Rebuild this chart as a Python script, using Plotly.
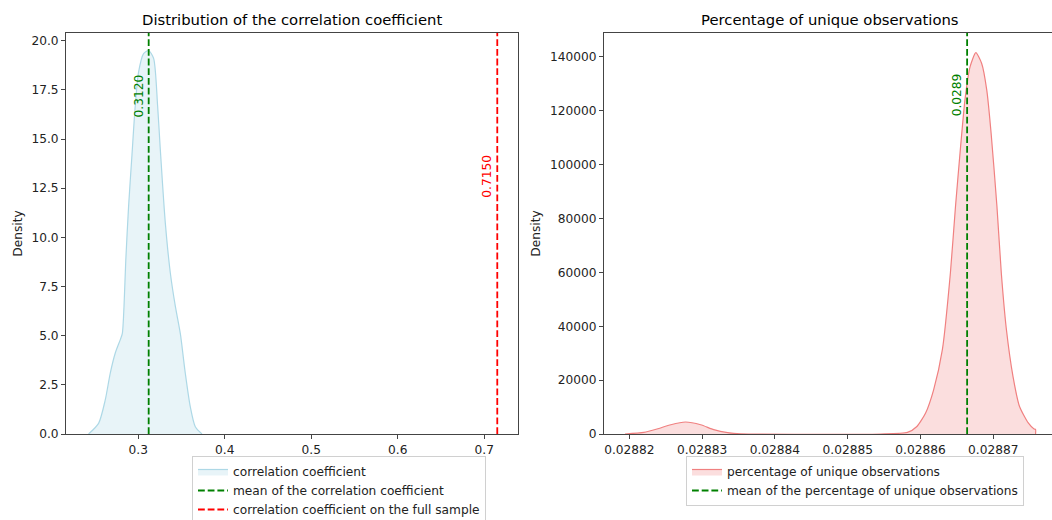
import plotly.graph_objects as go

# ---------------- data ----------------
corr_x = [0.2425, 0.2541, 0.2618, 0.2676, 0.2734, 0.2792, 0.2815, 0.2835, 0.2855,
          0.2888, 0.2927, 0.2965, 0.3003, 0.3061, 0.3119, 0.3177, 0.3223, 0.3254,
          0.3312, 0.3370, 0.3428, 0.3486, 0.3543, 0.3601, 0.3659, 0.3736]
corr_d = [0.0, 0.54, 1.73, 3.1, 4.12, 4.8, 5.1, 6.5, 8.8,
          11.6, 14.2, 16.7, 18.4, 19.34, 19.5, 19.1, 16.7, 14.5,
          10.75, 8.2, 6.5, 5.1, 3.1, 1.39, 0.37, 0.0]
corr_mean = 0.3120
corr_full = 0.7150

pct_x = [0.0288194, 0.0288220, 0.0288238, 0.0288257, 0.0288277, 0.0288298, 0.0288316,
         0.0288335, 0.0288353, 0.0288545, 0.0288582, 0.0288595, 0.0288607, 0.0288618,
         0.0288630, 0.0288641, 0.0288648, 0.0288655, 0.0288661, 0.0288668, 0.0288676,
         0.0288684, 0.0288691, 0.0288697, 0.0288705, 0.0288711, 0.0288718, 0.0288727,
         0.0288736, 0.0288748, 0.0288756, 0.0288758]
pct_d = [0, 600, 1850, 3450, 4450, 3450, 1600,
         480, 50, 0, 600, 2800, 7800, 16400,
         31300, 59700, 84400, 106600, 124000, 136300, 141600,
         137600, 127700, 111600, 84400, 59700, 38700, 21400,
         10200, 4100, 1850, 1700]
pct_mean = 0.0288664

corr_xticks = [0.3, 0.4, 0.5, 0.6, 0.7]
corr_yticks = [0.0, 2.5, 5.0, 7.5, 10.0, 12.5, 15.0, 17.5, 20.0]
pct_xticks = [0.02882, 0.02883, 0.02884, 0.02885, 0.02886, 0.02887]
pct_yticks = [0, 20000, 40000, 60000, 80000, 100000, 120000, 140000]

# ---------------- styling ----------------
FONT = "DejaVu Sans"
FS = 12.2
AX = "#444444"
DASH = "6.8px,2.9px"
W, H = 1052, 520
L, R, T, B = 66, 0, 33, 86
PW = W - L - R
PH = H - T - B


def px_x(p):
    return (p - L) / PW


def px_y(p):
    return (H - B - p) / PH


fig = go.Figure()

# left KDE
fig.add_trace(go.Scatter(
    x=corr_x, y=corr_d, mode="lines", fill="toself",
    fillcolor="rgba(173,216,230,0.28)",
    line=dict(color="lightblue", width=1.2, shape="spline", smoothing=0.7),
    name="correlation coefficient", xaxis="x", yaxis="y",
    legend="legend", hoverinfo="skip"))

# right KDE (closed at the cut edge)
fig.add_trace(go.Scatter(
    x=pct_x + [pct_x[-1]], y=pct_d + [0], mode="lines", fill="toself",
    fillcolor="rgba(240,128,128,0.26)",
    line=dict(color="lightcoral", width=1.2, shape="spline", smoothing=0.6),
    name="percentage of unique observations", xaxis="x2", yaxis="y2",
    legend="legend2", hoverinfo="skip"))

# vertical reference lines (shapes with legend entries)
fig.add_shape(type="line", xref="x", yref="y domain", x0=corr_mean, x1=corr_mean,
              y0=0, y1=1, line=dict(color="green", width=1.8, dash=DASH),
              showlegend=True, name="mean of the correlation coefficient",
              legend="legend")
fig.add_shape(type="line", xref="x", yref="y domain", x0=corr_full, x1=corr_full,
              y0=0, y1=1, line=dict(color="red", width=1.8, dash=DASH),
              showlegend=True, name="correlation coefficient on the full sample",
              legend="legend")
fig.add_shape(type="line", xref="x2", yref="y2 domain", x0=pct_mean, x1=pct_mean,
              y0=0, y1=1, line=dict(color="green", width=1.8, dash=DASH),
              showlegend=True, name="mean of the percentage of unique observations",
              legend="legend2")

annotations = [
    dict(x=corr_mean, y=17.2, xref="x", yref="y", text=f"{corr_mean:.4f}",
         textangle=-90, xanchor="right", yanchor="middle", showarrow=False,
         xshift=-1, font=dict(family=FONT, size=FS, color="green")),
    dict(x=corr_full, y=13.1, xref="x", yref="y", text=f"{corr_full:.4f}",
         textangle=-90, xanchor="right", yanchor="middle", showarrow=False,
         xshift=-1, font=dict(family=FONT, size=FS, color="red")),
    dict(x=pct_mean, y=125800, xref="x2", yref="y2", text=f"{pct_mean:.4f}",
         textangle=-90, xanchor="right", yanchor="middle", showarrow=False,
         xshift=-1, font=dict(family=FONT, size=FS, color="green")),
    dict(x=px_x(292), y=1, xref="paper", yref="paper",
         text="Distribution of the correlation coefficient", showarrow=False,
         xanchor="center", yanchor="bottom", yshift=3,
         font=dict(family=FONT, size=14.8, color="black")),
    dict(x=px_x(830), y=1, xref="paper", yref="paper",
         text="Percentage of unique observations", showarrow=False,
         xanchor="center", yanchor="bottom", yshift=3,
         font=dict(family=FONT, size=14.8, color="black")),
]

axis_common = dict(showgrid=False, zeroline=False, showline=True, linecolor=AX,
                   linewidth=1, ticks="outside", ticklen=4, tickwidth=1,
                   tickcolor=AX, automargin=False,
                   tickfont=dict(family=FONT, size=FS, color="#222"))

legend_common = dict(bgcolor="rgba(255,255,255,0.8)", bordercolor="#d0d0d0",
                     borderwidth=1, font=dict(family=FONT, size=FS, color="#222"),
                     xanchor="left", yanchor="top", tracegroupgap=0)

fig.update_layout(
    width=W, height=H, margin=dict(l=L, r=R, t=T, b=B, autoexpand=False),
    paper_bgcolor="white", plot_bgcolor="white",
    font=dict(family=FONT, size=FS, color="#222"),
    xaxis=dict(domain=[0, 452 / PW], range=[0.21642, 0.73896],
               tickvals=corr_xticks, ticktext=[f"{v:.1f}" for v in corr_xticks],
               mirror=True, anchor="y", **axis_common),
    yaxis=dict(domain=[0, 1], range=[0, 20.39],
               tickvals=corr_yticks, ticktext=[f"{v:.1f}" for v in corr_yticks],
               mirror=True, anchor="x",
               title=dict(text="Density", standoff=6,
                          font=dict(family=FONT, size=FS, color="#222")),
               **axis_common),
    xaxis2=dict(domain=[(604 - L) / PW, 1], range=[0.02881652, 0.02887806],
                tickvals=pct_xticks, ticktext=[f"{v:.5f}" for v in pct_xticks],
                mirror=True, anchor="y2", **axis_common),
    yaxis2=dict(domain=[0, 1], range=[0, 148900],
                tickvals=pct_yticks, ticktext=[str(v) for v in pct_yticks],
                mirror=False, anchor="x2",
                title=dict(text="Density", standoff=6,
                           font=dict(family=FONT, size=FS, color="#222")),
                **axis_common),
    legend=dict(x=px_x(192), y=px_y(456), **legend_common),
    legend2=dict(x=px_x(686), y=px_y(456), **legend_common),
    annotations=annotations,
)

fig.write_html(
    "out.html",
    config={"displayModeBar": False},
    post_script="document.body.style.margin='0';document.body.style.padding='0';"
                "document.documentElement.style.overflow='hidden';",
)
